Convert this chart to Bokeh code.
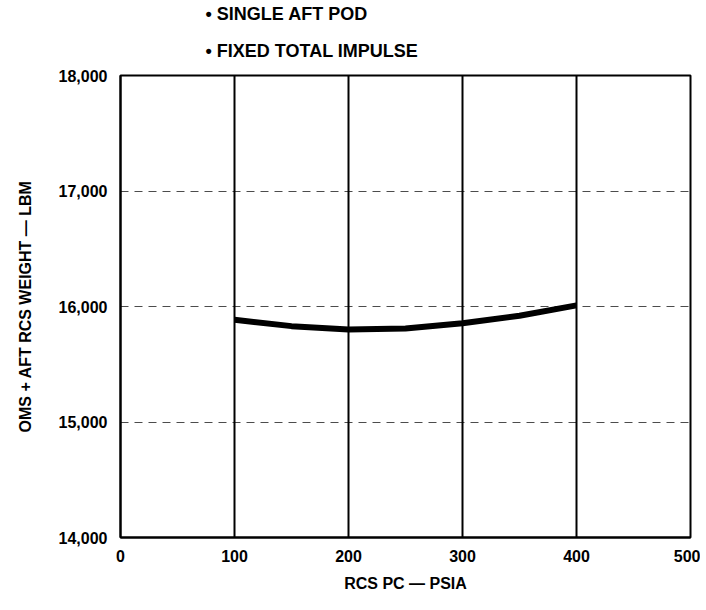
from bokeh.plotting import figure
from bokeh.models import Title, FixedTicker, NumeralTickFormatter, Range1d
from bokeh.embed import file_html
from bokeh.resources import INLINE

pc_psia = [100, 150, 200, 250, 300, 350, 400]
weight_lbm = [15885, 15830, 15800, 15810, 15855, 15920, 16010]
x_ticks = [0, 100, 200, 300, 400, 500]
y_ticks = [14000, 15000, 16000, 17000, 18000]
notes = ["• SINGLE AFT POD", "• FIXED TOTAL IMPULSE"]

FONT = "Liberation Sans"

p = figure(width=700, height=594, output_backend="svg", toolbar_location=None,
           x_range=Range1d(0, 500), y_range=Range1d(14000, 18000),
           min_border_left=120, min_border_right=10, min_border_top=75, min_border_bottom=57)

p.line(pc_psia, weight_lbm, line_width=6, color="black")

standoffs = [29, 2]
for t, s in zip(reversed(notes), standoffs):
    p.add_layout(Title(text=t, align="left", offset=85, text_font=FONT,
                       text_font_size="18px", text_font_style="bold",
                       text_color="black", standoff=s), "above")

p.xaxis.ticker = FixedTicker(ticks=x_ticks)
p.yaxis.ticker = FixedTicker(ticks=y_ticks)
p.yaxis.formatter = NumeralTickFormatter(format="0,0")
p.xaxis.axis_label = "RCS PC — PSIA"
p.yaxis.axis_label = "OMS + AFT RCS WEIGHT — LBM"
for ax in (p.xaxis, p.yaxis):
    ax.axis_label_text_font = FONT
    ax.axis_label_text_font_style = "bold"
    ax.axis_label_text_font_size = "16px"
    ax.major_label_text_font = FONT
    ax.major_label_text_font_style = "bold"
    ax.major_label_text_font_size = "16px"
    ax.major_label_text_color = "black"
    ax.axis_label_text_color = "black"
    ax.axis_line_color = "black"
    ax.axis_line_width = 2
    ax.major_tick_line_color = None
    ax.minor_tick_line_color = None
p.yaxis.major_label_standoff = 7
p.xaxis.major_label_standoff = 6
p.yaxis.axis_label_standoff = 22
p.xaxis.axis_label_standoff = 10

p.xgrid.grid_line_color = "black"
p.xgrid.grid_line_width = 2
p.ygrid.grid_line_color = "black"
p.ygrid.grid_line_width = 1
p.ygrid.grid_line_dash = "8 6"
p.ygrid.grid_line_alpha = 0.7

p.outline_line_color = "black"
p.outline_line_width = 2
p.background_fill_color = "white"
p.border_fill_color = "white"

open("out.html", "w").write(file_html(p, INLINE))
